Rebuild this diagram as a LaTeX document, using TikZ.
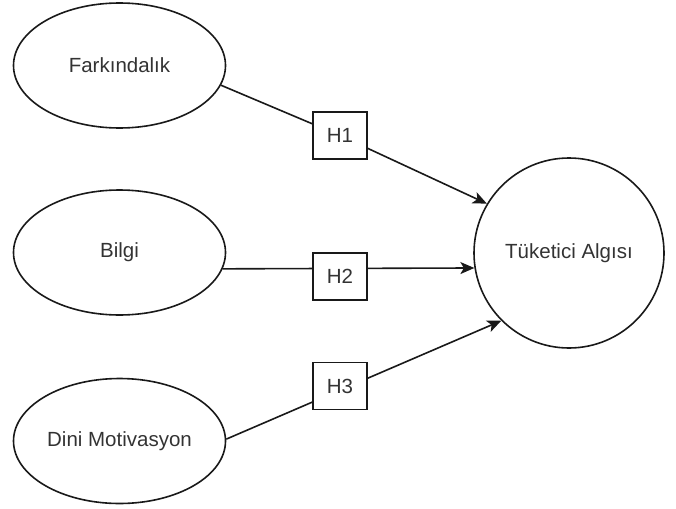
\documentclass[tikz,border=0pt]{standalone}
\usepackage{fontspec}
\setmainfont{Liberation Sans}
\usetikzlibrary{shapes.geometric,arrows.meta}

\begin{document}
\begin{tikzpicture}[
  x=1pt, y=-1pt,
  every node/.style = {font=\fontsize{20.5}{24}\selectfont, text=black!80,
    line width=1.6pt, draw=black!90, inner sep=0pt},
  construct/.style = {shape=ellipse, minimum width=212pt, minimum height=125pt},
  target/.style = {shape=circle, minimum size=190pt},
  hyp/.style = {shape=rectangle, fill=white, minimum width=54pt, minimum height=47pt},
  link/.style = {line width=1.6pt, draw=black!90,
    -{Stealth[length=14pt, width=12pt, inset=3.5pt]}}
  ]
    \useasboundingbox (0,0) rectangle (676,508);
    % constructs
    \node[construct] (fark)  at (119.5,65.5) {Farkındalık};
    \node[construct] (bilgi) at (119.5,252.5) {Bilgi};
    \node[construct] (dini)  at (119.5,441) {Dini Motivasyon};
    \node[target]    (alg)   at (569,253) {Tüketici Algısı};
    % paths
    \draw[link] (bilgi.-9) -- (alg.189);
    \draw[link] (dini.1) -- (alg.225);
    \node[hyp] (h1) at (340,135.5) {H1};
    \node[hyp] (h2) at (340,276.7) {H2};
    \node[hyp] (h3) at (340,386) {H3};
    \draw[link, -] (fark.-11) -- (h1);
    \draw[link] (h1) -- (alg.149);
\end{tikzpicture}
\end{document}
